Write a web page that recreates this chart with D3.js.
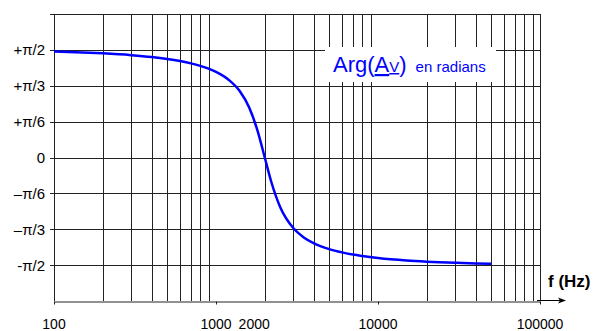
<!DOCTYPE html>
<html lang="fr">
<head>
<meta charset="UTF-8">
<title>Arg(Av) en radians</title>
<script src="https://cdn.jsdelivr.net/npm/d3@7"></script>
<style>
  body { margin: 0; background: #fff; }
  text { font-family: "Liberation Sans", Arial, sans-serif; }
</style>
</head>
<body>
<script>
    // frequences (Hz)
    var freqs = [100, 150, 200, 300, 400, 500, 600, 700, 800, 900, 1000, 1200, 1400, 1600, 1800,
                 2000, 2200, 2500, 3000, 3500, 4000, 5000, 6000, 7000, 8000, 10000, 15000, 20000, 30000, 40000, 50000];
    // phase lue (rad)
    var phase = [1.546, 1.533, 1.520, 1.494, 1.467, 1.438, 1.407, 1.374, 1.337, 1.296, 1.249, 1.132, 0.970, 0.733, 0.400,
                 0, -0.365, -0.733, -1.030, -1.170, -1.249, -1.337, -1.385, -1.417, -1.438, -1.467, -1.503, -1.520, -1.537, -1.546, -1.551];

    var yTicks = [Math.PI / 2, Math.PI / 3, Math.PI / 6, 0, -Math.PI / 6, -Math.PI / 3, -Math.PI / 2];
    var yLabels = ["+\u03c0/2", "+\u03c0/3", "+\u03c0/6", "0", "\u2013\u03c0/6", "\u2013\u03c0/3", "-\u03c0/2"];
    var xTicks = [100, 1000, 10000, 100000];
    var xLabels = ["100", "1000", "10000", "100000"];
    // grille: 200..900, 2000..9000, 20000..90000
    var xGrid = [200, 300, 400, 500, 600, 700, 800, 900,
                 2000, 3000, 4000, 5000, 6000, 7000, 8000, 9000,
                 20000, 30000, 40000, 50000, 60000, 70000, 80000, 90000];

    var W = 598, H = 331;
    var pad = {left: 54, right: 58, top: 14, bottom: 30};

    var svg = d3.select("body").append("svg")
                .attr("width", W).attr("height", H);

    var x = d3.scaleLog().domain([100, 100000]).range([pad.left, W - pad.right]);
    var y = d3.scaleLinear().domain([-2 * Math.PI / 3, 2 * Math.PI / 3]).range([H - pad.bottom, pad.top]);

    var gridColor = "#222";

    // grille verticale
    svg.append("g").selectAll("line").data(xGrid).enter().append("line")
        .attr("x1", d => Math.round(x(d)) + 0.5).attr("x2", d => Math.round(x(d)) + 0.5)
        .attr("y1", y.range()[1]).attr("y2", y.range()[0])
        .attr("stroke", gridColor).attr("stroke-width", 1);

    // grille horizontale + petits traits a gauche
    svg.append("g").selectAll("line").data(yTicks.concat([2 * Math.PI / 3])).enter().append("line")
        .attr("x1", pad.left - 4).attr("x2", W - pad.right)
        .attr("y1", d => Math.round(y(d)) + 0.5).attr("y2", d => Math.round(y(d)) + 0.5)
        .attr("stroke", gridColor).attr("stroke-width", 1);

    // axe bas
    var axisX = d3.axisBottom(x).tickValues(xTicks).tickFormat("").tickSizeInner(3).tickSizeOuter(0);
    svg.append("g").attr("transform", "translate(0," + (Math.round(y(-2 * Math.PI / 3)) + 0.5) + ")").call(axisX)
        .call(g => g.select(".domain").attr("stroke", gridColor))
        .call(g => g.selectAll(".tick line").attr("stroke", gridColor));

    // bords gauche et droit
    svg.append("line").attr("x1", pad.left + 0.5).attr("x2", pad.left + 0.5)
        .attr("y1", y.range()[1]).attr("y2", y.range()[0]).attr("stroke", gridColor);
    svg.append("line").attr("x1", Math.round(x(100000)) + 0.5).attr("x2", Math.round(x(100000)) + 0.5)
        .attr("y1", y.range()[1]).attr("y2", y.range()[0]).attr("stroke", gridColor);

    // etiquettes y
    svg.append("g").selectAll("text").data(yTicks).enter().append("text")
        .attr("x", pad.left - 9).attr("y", d => y(d)).attr("dy", "0.36em")
        .attr("text-anchor", "end").attr("font-size", 15).attr("fill", "#000")
        .text((d, i) => yLabels[i]);

    // etiquettes x
    svg.append("g").selectAll("text").data(xTicks).enter().append("text")
        .attr("x", d => x(d)).attr("y", 329)
        .attr("text-anchor", "middle").attr("font-size", 14).attr("fill", "#000")
        .text((d, i) => xLabels[i]);
    svg.append("text").attr("x", x(2000) + 5).attr("y", 329)
        .attr("text-anchor", "end").attr("font-size", 14).text("2000");

    // cadre blanc de la legende
    svg.append("rect").attr("x", 325).attr("y", 47).attr("width", 171).attr("height", 35).attr("fill", "#fff");

    // courbe
    var line = d3.line().x(d => x(d[0])).y(d => y(d[1])).curve(d3.curveMonotoneX);
    svg.append("path").datum(d3.zip(freqs, phase))
        .attr("d", line).attr("fill", "none")
        .attr("stroke", "#0000ff").attr("stroke-width", 2.5);

    // legende
    var leg = svg.append("text").attr("x", 333).attr("y", 72).attr("fill", "#0000ff");
    leg.append("tspan").attr("font-size", 22).text("Arg(");
    leg.append("tspan").attr("font-size", 22).attr("text-decoration", "underline").text("A");
    leg.append("tspan").attr("font-size", 15).attr("text-decoration", "underline").text("V");
    leg.append("tspan").attr("font-size", 22).text(")");
    leg.append("tspan").attr("font-size", 15).attr("dx", 9).text("en radians");

    // f (Hz) et fleche
    svg.append("text").attr("x", 548).attr("y", 287).attr("font-size", 17).attr("font-weight", "bold").text("f (Hz)");
    var ay = 300.5;
    svg.append("line").attr("x1", 537).attr("x2", 563).attr("y1", ay).attr("y2", ay).attr("stroke", "#000");
    svg.append("path").attr("d", "M566," + ay + " L558," + (ay - 3) + " L560," + ay + " L558," + (ay + 3) + " Z").attr("fill", "#000");
</script>
</body>
</html>
